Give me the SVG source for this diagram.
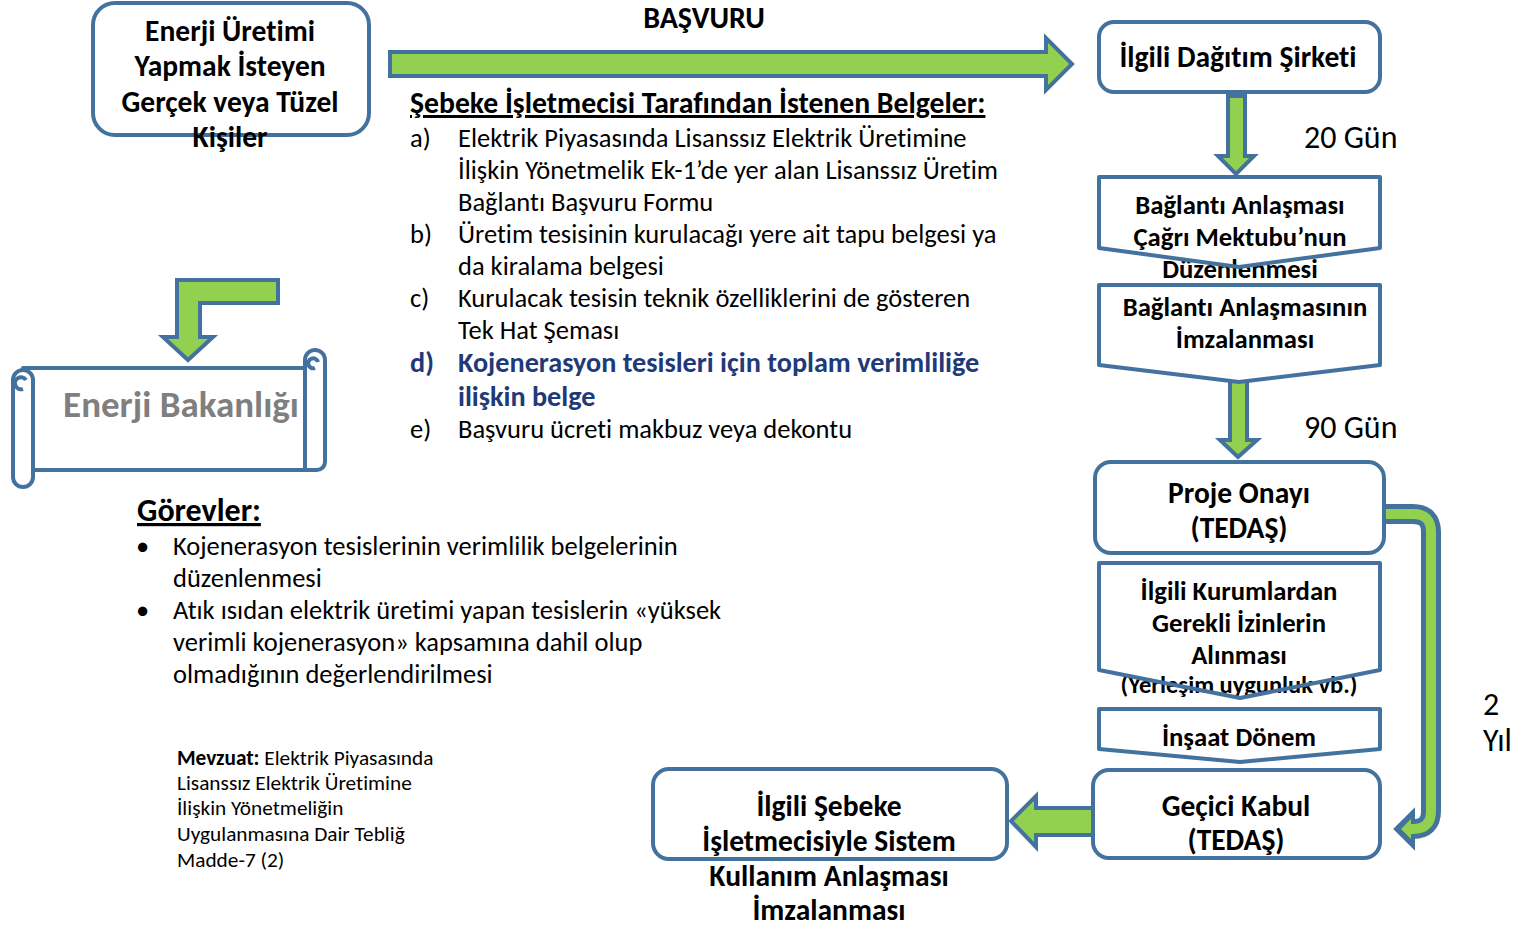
<svg xmlns="http://www.w3.org/2000/svg" width="1516" height="925" viewBox="0 0 1516 925">
  <style>
    text { font-family: Carlito, Lato, "Liberation Sans", sans-serif; fill: #000; font-variant-ligatures: none; }
    .b { font-weight: bold; }
    .box { fill: #fff; stroke: #44729e; stroke-width: 4; stroke-linejoin: round; }
    .edge { fill: none; stroke: #44729e; stroke-width: 4; stroke-linejoin: round; }
    .arr { fill: #92d050; stroke: #44729e; stroke-width: 4; stroke-linejoin: miter; }
    .lbl { font-size: 32px; }
    .t24 { font-size: 29.5px; font-weight: bold; text-anchor: middle; }
    .t22 { font-size: 26.7px; font-weight: bold; text-anchor: middle; }
    .li { font-size: 26.5px; }
    .blue { font-size: 28.2px; font-weight: bold; fill: #1f3a78; }
  </style>

  <!-- applicant -->
  <g id="applicant">
    <rect class="box" x="93" y="3" width="276" height="132" rx="22"/>
    <text class="t24" x="230" y="41">Enerji Üretimi</text>
    <text class="t24" x="230" y="76">Yapmak İsteyen</text>
    <text class="t24" x="230" y="112">Gerçek veya Tüzel</text>
    <text class="t24" x="230" y="147">Kişiler</text>
  </g>

  <!-- connectors -->
  <g id="connectors">
    <!-- application arrow -->
    <polygon class="arr" points="390,52 1046,52 1046,38 1072,64 1046,90 1046,76 390,76"/>
    <!-- down to ministry -->
    <polygon class="arr" points="278,280 177,280 177,337 163,337 188,360 213,337 200,337 200,303 278,303"/>
    <!-- 20 days -->
    <polygon class="arr" points="1228,96 1245,96 1245,156 1254,156 1236,174 1218,156 1228,156"/>
    <!-- 90 days -->
    <polygon class="arr" points="1230,381 1247,381 1247,440 1257,440 1238,457 1220,440 1230,440"/>
    <!-- 2 years bend -->
    <path d="M1384,514 H1413 Q1431,514 1431,532 V811 Q1431,829 1413,829 H1410" fill="none" stroke="#44729e" stroke-width="20"/>
    <polygon points="1396,829 1413,812 1413,846" fill="#44729e" stroke="#44729e" stroke-width="4" stroke-linejoin="miter"/>
    <path d="M1384,514 H1413 Q1431,514 1431,532 V811 Q1431,829 1413,829 H1408" fill="none" stroke="#92d050" stroke-width="10"/>
    <polygon points="1401,829 1411,819 1411,839" fill="#92d050"/>
    <!-- to system usage agreement -->
    <polygon class="arr" points="1093,808 1036,808 1036,796 1011,821 1036,847 1036,835 1093,835"/>
  </g>

  <text class="b" x="704" y="28" font-size="30" text-anchor="middle">BAŞVURU</text>

  <!-- required documents -->
  <g id="documents">
    <text class="b" x="410" y="113" font-size="29.7" text-decoration="underline">Şebeke İşletmecisi Tarafından İstenen Belgeler:</text>
    <text class="li" x="410" y="147">a)</text>
    <text class="li" x="458" y="147">Elektrik Piyasasında Lisanssız Elektrik Üretimine</text>
    <text class="li" x="458" y="179">İlişkin Yönetmelik Ek-1’de yer alan Lisanssız Üretim</text>
    <text class="li" x="458" y="211">Bağlantı Başvuru Formu</text>
    <text class="li" x="410" y="243">b)</text>
    <text class="li" x="458" y="243">Üretim tesisinin kurulacağı yere ait tapu belgesi ya</text>
    <text class="li" x="458" y="275">da kiralama belgesi</text>
    <text class="li" x="410" y="307">c)</text>
    <text class="li" x="458" y="307">Kurulacak tesisin teknik özelliklerini de gösteren</text>
    <text class="li" x="458" y="339">Tek Hat Şeması</text>
    <text class="blue" x="410" y="372">d)</text>
    <text class="blue" x="458" y="372">Kojenerasyon tesisleri için toplam verimliliğe</text>
    <text class="blue" x="458" y="406">ilişkin belge</text>
    <text class="li" x="410" y="438">e)</text>
    <text class="li" x="458" y="438">Başvuru ücreti makbuz veya dekontu</text>
  </g>

  <!-- ministry scroll -->
  <g id="ministry">
    <path class="box" d="M23,368 H313 V470 H23 Z"/>
    <path class="box" d="M305,368 V360 A10,10 0 0 1 325,360 V462 A8,8 0 0 1 317,470 H305 Z"/>
    <path class="edge" d="M315,368 A5,5 0 1 1 318,362"/>
    <rect class="box" x="13" y="370" width="20" height="117" rx="10"/>
    <path class="edge" d="M23,389 A6,6 0 1 1 26,380"/>
    <text class="b" x="181" y="417" font-size="37" text-anchor="middle" style="fill:#7f7f7f">Enerji Bakanlığı</text>
  </g>

  <!-- duties -->
  <g id="duties">
    <text class="b" x="137" y="521" font-size="32" text-decoration="underline">Görevler:</text>
    <text class="li" x="136" y="555">•</text>
    <text class="li" x="173" y="555">Kojenerasyon tesislerinin verimlilik belgelerinin</text>
    <text class="li" x="173" y="587">düzenlenmesi</text>
    <text class="li" x="136" y="619">•</text>
    <text class="li" x="173" y="619">Atık ısıdan elektrik üretimi yapan tesislerin «yüksek</text>
    <text class="li" x="173" y="651">verimli kojenerasyon» kapsamına dahil olup</text>
    <text class="li" x="173" y="683">olmadığının değerlendirilmesi</text>
  </g>

  <!-- legislation note -->
  <g id="legislation" font-size="21.3">
    <text x="177" y="765"><tspan class="b">Mevzuat:</tspan> Elektrik Piyasasında</text>
    <text x="177" y="790">Lisanssız Elektrik Üretimine</text>
    <text x="177" y="815">İlişkin Yönetmeliğin</text>
    <text x="177" y="841">Uygulanmasına Dair Tebliğ</text>
    <text x="177" y="867">Madde-7 (2)</text>
  </g>

  <!-- distribution company -->
  <g id="distribution">
    <rect class="box" x="1099" y="22" width="281" height="70" rx="15"/>
    <text class="t24" x="1238" y="67">İlgili Dağıtım Şirketi</text>
  </g>
  <text class="lbl" x="1304" y="148">20 Gün</text>

  <!-- call letter -->
  <g id="call-letter">
    <path d="M1099,177 H1380 V248 L1239,267 L1099,248 Z" fill="#fff"/>
    <text class="t22" x="1240" y="214">Bağlantı Anlaşması</text>
    <text class="t22" x="1240" y="246">Çağrı Mektubu’nun</text>
    <text class="t22" x="1240" y="278">Düzenlenmesi</text>
    <path class="edge" d="M1099,177 H1380 V248 L1239,267 L1099,248 Z"/>
  </g>

  <!-- signing of connection agreement -->
  <g id="signing">
    <path class="box" d="M1099,285 H1380 V365 L1239,382 L1099,365 Z"/>
    <text class="t22" x="1245" y="316">Bağlantı Anlaşmasının</text>
    <text class="t22" x="1245" y="348">İmzalanması</text>
  </g>
  <text class="lbl" x="1304" y="438">90 Gün</text>

  <!-- project approval -->
  <g id="project-approval">
    <rect class="box" x="1095" y="462" width="289" height="91" rx="16"/>
    <text class="t24" x="1239" y="503">Proje Onayı</text>
    <text class="t24" x="1239" y="538">(TEDAŞ)</text>
  </g>

  <!-- permits -->
  <g id="permits">
    <path d="M1099,563 H1380 V670 L1240,698 L1099,670 Z" fill="#fff"/>
    <text class="t22" x="1239" y="600">İlgili Kurumlardan</text>
    <text class="t22" x="1239" y="632">Gerekli İzinlerin</text>
    <text class="t22" x="1239" y="664">Alınması</text>
    <text class="t22" x="1239" y="693" style="font-size:24.5px">(Yerleşim uygunluk vb.)</text>
    <path class="edge" d="M1099,563 H1380 V670 L1240,698 L1099,670 Z"/>
  </g>

  <!-- construction -->
  <g id="construction">
    <path class="box" d="M1099,709 H1380 V749 L1240,762 L1099,749 Z"/>
    <text class="t22" x="1239" y="746">İnşaat Dönem</text>
  </g>

  <!-- provisional acceptance -->
  <g id="provisional-acceptance">
    <rect class="box" x="1093" y="770" width="287" height="88" rx="16"/>
    <text class="t24" x="1236" y="816">Geçici Kabul</text>
    <text class="t24" x="1236" y="850">(TEDAŞ)</text>
  </g>
  <text class="lbl" x="1483" y="715">2</text>
  <text class="lbl" x="1483" y="751">Yıl</text>

  <!-- system usage agreement -->
  <g id="usage-agreement">
    <rect class="box" x="653" y="769" width="354" height="90" rx="16"/>
    <text class="t24" x="829" y="816">İlgili Şebeke</text>
    <text class="t24" x="829" y="851">İşletmecisiyle Sistem</text>
    <text class="t24" x="829" y="886">Kullanım Anlaşması</text>
    <text class="t24" x="829" y="920">İmzalanması</text>
  </g>
</svg>
